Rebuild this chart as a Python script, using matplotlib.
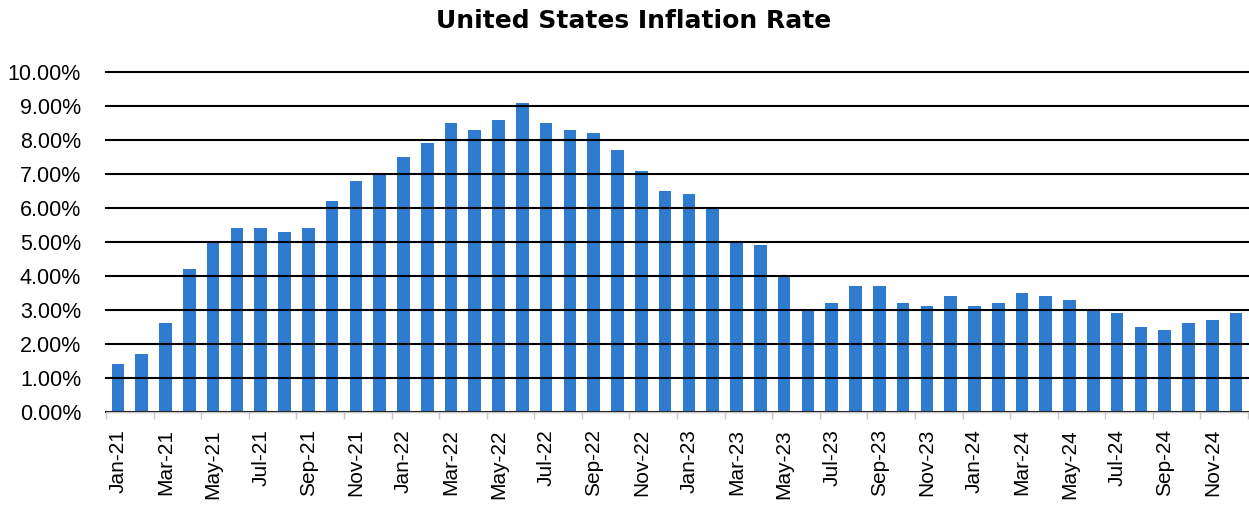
import numpy as np
import matplotlib
matplotlib.use("Agg")
import matplotlib.pyplot as plt
from matplotlib.ticker import FixedLocator, PercentFormatter

# monthly CPI inflation, Jan-21 .. Dec-24 (%)
months = ["Jan", "Feb", "Mar", "Apr", "May", "Jun",
          "Jul", "Aug", "Sep", "Oct", "Nov", "Dec"]
years = ["21", "22", "23", "24"]
labels = [m + "-" + y for y in years for m in months]

rate_2021 = [1.4, 1.7, 2.6, 4.2, 5.0, 5.4, 5.4, 5.3, 5.4, 6.2, 6.8, 7.0]
rate_2022 = [7.5, 7.9, 8.5, 8.3, 8.6, 9.1, 8.5, 8.3, 8.2, 7.7, 7.1, 6.5]
rate_2023 = [6.4, 6.0, 5.0, 4.9, 4.0, 3.0, 3.2, 3.7, 3.7, 3.2, 3.1, 3.4]
rate_2024 = [3.1, 3.2, 3.5, 3.4, 3.3, 3.0, 2.9, 2.5, 2.4, 2.6, 2.7, 2.9]
rates = rate_2021 + rate_2022 + rate_2023 + rate_2024

plt.rcParams["font.family"] = ["Liberation Sans", "DejaVu Sans"]

fig = plt.figure(figsize=(12.49, 5.13), dpi=100)
ax = fig.add_axes([0.0849, 0.1975, 0.9143, 0.6621])

x = np.arange(len(rates))
ax.bar(x, rates, width=0.53, color="#2E7BD0", zorder=1)

ax.set_xlim(-0.5, len(rates) - 0.5)
ax.set_ylim(0, 10)

# gridlines on top of the bars
ax.set_yticks(np.arange(0, 11, 1))
ax.yaxis.set_major_formatter(PercentFormatter(decimals=2))
ax.yaxis.grid(True, color="black", linewidth=1.5, zorder=3)
ax.set_axisbelow(False)
for gl in ax.yaxis.get_gridlines():
    gl.set_clip_on(False)

# labels on every second month, small ticks on the category edges
ax.set_xticks(x[::2])
ax.set_xticklabels(labels[::2], rotation=90)
ax.xaxis.set_minor_locator(FixedLocator(np.arange(-0.5, len(rates), 2)))
ax.tick_params(axis="x", which="major", length=0, pad=12.5, labelsize=15)
ax.tick_params(axis="x", which="minor", length=5, color="#C8C8C8", width=1)
ax.tick_params(axis="y", length=0, pad=18, labelsize=15.5)

for side in ["left", "right", "top"]:
    ax.spines[side].set_visible(False)
ax.spines["bottom"].set_color("#C8C8C8")
ax.spines["bottom"].set_linewidth(1)
ax.spines["bottom"].set_zorder(4)

fig.text(634 / 1249, 1 - 21 / 513, "United States Inflation Rate",
         ha="center", va="center", fontsize=18, fontweight="bold",
         family=["DejaVu Sans"])

fig.savefig("out.png", dpi=100)
